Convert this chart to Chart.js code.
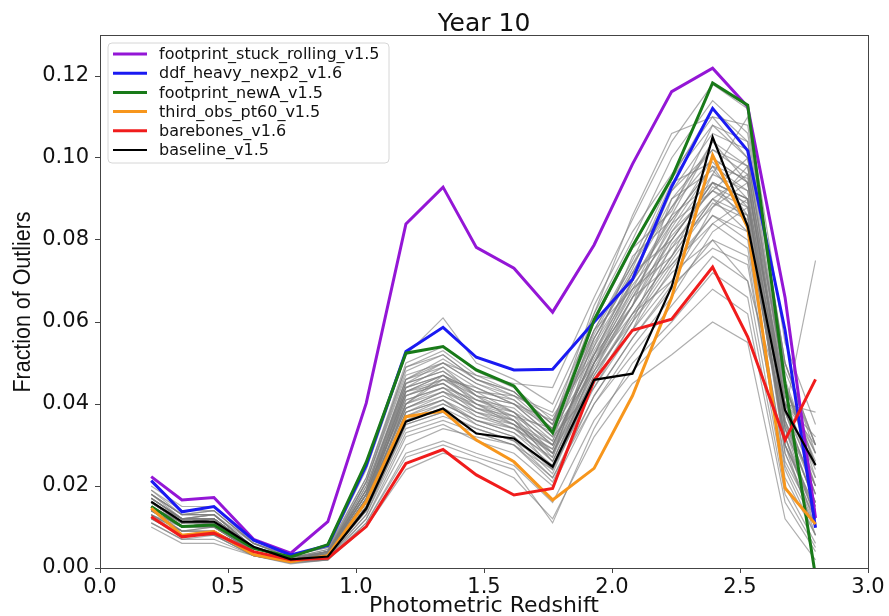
<!DOCTYPE html>
<html>
<head>
<meta charset="utf-8">
<script src="https://cdn.jsdelivr.net/npm/chart.js@4/dist/chart.umd.min.js"></script>
<style>
  html, body { margin: 0; padding: 0; background: #fff; }
  #chart { display: block; }
</style>
</head>
<body>
<canvas id="chart" width="889" height="616"></canvas>
<script>
// redshift bin centres
const zBins = [0.2, 0.32, 0.445, 0.6, 0.745, 0.89, 1.04, 1.195, 1.34, 1.47, 1.617, 1.768, 1.93, 2.08, 2.233, 2.393, 2.53, 2.676, 2.795];

const xTicks = [0, 0.5, 1.0, 1.5, 2.0, 2.5, 3.0];
const yTicks = [0, 0.02, 0.04, 0.06, 0.08, 0.10, 0.12];

// highlighted runs
const runNames = ['footprint_stuck_rolling_v1.5', 'ddf_heavy_nexp2_v1.6', 'footprint_newA_v1.5', 'third_obs_pt60_v1.5', 'barebones_v1.6', 'baseline_v1.5'];
const stuckRolling = [0.0223, 0.0166, 0.0172, 0.0070, 0.0036, 0.0113, 0.0402, 0.0839, 0.0929, 0.0782, 0.0731, 0.0624, 0.0788, 0.0985, 0.1162, 0.1219, 0.1125, 0.066, 0.0122];
const ddfHeavy     = [0.0213, 0.0137, 0.0150, 0.0068, 0.0032, 0.0055, 0.0250, 0.0528, 0.0587, 0.0514, 0.0483, 0.0485, 0.0600, 0.0704, 0.0930, 0.1121, 0.1018, 0.058, 0.0098];
const newA         = [0.0150, 0.0101, 0.0105, 0.0048, 0.0027, 0.0057, 0.0258, 0.0524, 0.0540, 0.0483, 0.0444, 0.0330, 0.0605, 0.0785, 0.0951, 0.1183, 0.1129, 0.045, -0.002];
const thirdObs     = [0.0146, 0.0080, 0.0089, 0.0033, 0.0015, 0.0030, 0.0162, 0.0369, 0.0383, 0.0312, 0.0259, 0.0166, 0.0243, 0.0420, 0.0660, 0.1007, 0.0830, 0.0195, 0.0107];
const barebones    = [0.0125, 0.0076, 0.0085, 0.0040, 0.0020, 0.0024, 0.0101, 0.0255, 0.0289, 0.0227, 0.0178, 0.0194, 0.0458, 0.0580, 0.0607, 0.0734, 0.0564, 0.0312, 0.0460];
const baseline     = [0.0162, 0.0113, 0.0113, 0.0052, 0.0021, 0.0028, 0.0145, 0.0357, 0.0389, 0.0328, 0.0316, 0.0247, 0.0459, 0.0474, 0.0686, 0.1051, 0.0834, 0.0385, 0.0251];
const runColors = ['#9416d6', '#1a1af2', '#187a18', '#f7961c', '#f01c1c', '#000000'];

// all the other runs (grey)
const otherRuns = [
  [0.018, 0.013, 0.013, 0.005, 0.0025, 0.004, 0.020, 0.046, 0.049, 0.044, 0.040, 0.032, 0.055, 0.070, 0.085, 0.098, 0.092, 0.035, 0.020],
  [0.016, 0.011, 0.012, 0.005, 0.002, 0.003, 0.017, 0.042, 0.045, 0.040, 0.036, 0.028, 0.050, 0.066, 0.080, 0.094, 0.090, 0.030, 0.015],
  [0.015, 0.010, 0.011, 0.004, 0.002, 0.003, 0.016, 0.040, 0.043, 0.037, 0.034, 0.026, 0.047, 0.062, 0.076, 0.090, 0.086, 0.028, 0.012],
  [0.017, 0.012, 0.012, 0.005, 0.002, 0.004, 0.019, 0.044, 0.047, 0.041, 0.038, 0.030, 0.052, 0.072, 0.090, 0.102, 0.096, 0.038, 0.022],
  [0.014, 0.009, 0.010, 0.004, 0.002, 0.003, 0.015, 0.038, 0.041, 0.035, 0.032, 0.024, 0.045, 0.060, 0.074, 0.086, 0.080, 0.025, 0.010],
  [0.019, 0.014, 0.014, 0.006, 0.003, 0.005, 0.022, 0.049, 0.052, 0.046, 0.043, 0.035, 0.058, 0.075, 0.095, 0.108, 0.100, 0.042, 0.028],
  [0.013, 0.008, 0.009, 0.004, 0.0015, 0.0025, 0.013, 0.035, 0.038, 0.033, 0.030, 0.022, 0.042, 0.056, 0.068, 0.080, 0.076, 0.022, 0.008],
  [0.012, 0.008, 0.008, 0.003, 0.0015, 0.0025, 0.012, 0.032, 0.035, 0.031, 0.028, 0.020, 0.040, 0.052, 0.064, 0.076, 0.070, 0.020, 0.006],
  [0.011, 0.007, 0.007, 0.003, 0.0012, 0.002, 0.011, 0.028, 0.031, 0.028, 0.025, 0.016, 0.036, 0.048, 0.058, 0.068, 0.062, 0.016, 0.004],
  [0.010, 0.006, 0.006, 0.003, 0.001, 0.002, 0.010, 0.024, 0.028, 0.026, 0.022, 0.012, 0.032, 0.045, 0.052, 0.060, 0.055, 0.012, 0.002],
  [0.020, 0.015, 0.015, 0.006, 0.003, 0.005, 0.024, 0.052, 0.061, 0.050, 0.046, 0.040, 0.062, 0.080, 0.100, 0.114, 0.106, 0.050, 0.030],
  [0.016, 0.012, 0.012, 0.005, 0.002, 0.004, 0.018, 0.045, 0.048, 0.043, 0.042, 0.038, 0.060, 0.078, 0.095, 0.112, 0.104, 0.045, 0.025],
  [0.015, 0.011, 0.011, 0.005, 0.002, 0.003, 0.017, 0.041, 0.044, 0.039, 0.037, 0.034, 0.057, 0.074, 0.088, 0.100, 0.094, 0.040, 0.038],
  [0.017, 0.012, 0.013, 0.005, 0.002, 0.004, 0.018, 0.043, 0.046, 0.042, 0.036, 0.026, 0.048, 0.064, 0.082, 0.096, 0.110, 0.048, 0.030],
  [0.014, 0.010, 0.010, 0.004, 0.002, 0.003, 0.016, 0.039, 0.042, 0.038, 0.036, 0.030, 0.052, 0.068, 0.078, 0.088, 0.098, 0.036, 0.018],
  [0.013, 0.009, 0.009, 0.004, 0.002, 0.003, 0.014, 0.036, 0.040, 0.036, 0.033, 0.027, 0.050, 0.070, 0.086, 0.094, 0.084, 0.030, 0.014],
  [0.018, 0.013, 0.013, 0.005, 0.0025, 0.004, 0.021, 0.047, 0.050, 0.045, 0.041, 0.033, 0.056, 0.072, 0.088, 0.104, 0.098, 0.040, 0.024],
  [0.012, 0.008, 0.008, 0.003, 0.0015, 0.002, 0.012, 0.030, 0.034, 0.032, 0.030, 0.024, 0.044, 0.058, 0.070, 0.084, 0.078, 0.026, 0.012],
  [0.016, 0.011, 0.011, 0.005, 0.002, 0.003, 0.016, 0.040, 0.046, 0.044, 0.040, 0.036, 0.054, 0.070, 0.084, 0.092, 0.088, 0.034, 0.016],
  [0.015, 0.010, 0.011, 0.004, 0.002, 0.003, 0.015, 0.037, 0.040, 0.036, 0.034, 0.029, 0.050, 0.066, 0.084, 0.100, 0.094, 0.040, 0.032],
  [0.014, 0.010, 0.010, 0.004, 0.002, 0.003, 0.015, 0.038, 0.042, 0.038, 0.034, 0.028, 0.048, 0.060, 0.072, 0.080, 0.070, 0.038, 0.075],
  [0.017, 0.012, 0.012, 0.005, 0.002, 0.004, 0.019, 0.046, 0.050, 0.047, 0.045, 0.044, 0.066, 0.085, 0.104, 0.118, 0.112, 0.055, 0.035],
  [0.013, 0.009, 0.009, 0.004, 0.0018, 0.0028, 0.014, 0.034, 0.037, 0.034, 0.031, 0.025, 0.046, 0.062, 0.076, 0.090, 0.082, 0.032, 0.010],
  [0.016, 0.011, 0.012, 0.005, 0.002, 0.0035, 0.018, 0.043, 0.047, 0.043, 0.038, 0.030, 0.050, 0.064, 0.080, 0.094, 0.090, 0.044, 0.028],
  [0.011, 0.007, 0.008, 0.003, 0.0013, 0.002, 0.011, 0.027, 0.030, 0.027, 0.024, 0.011, 0.034, 0.050, 0.060, 0.072, 0.066, 0.018, 0.005],
  [0.018, 0.013, 0.014, 0.006, 0.0025, 0.0045, 0.022, 0.050, 0.054, 0.048, 0.044, 0.036, 0.058, 0.074, 0.092, 0.106, 0.102, 0.044, 0.026],
  [0.017, 0.012, 0.012, 0.005, 0.002, 0.004, 0.019, 0.040, 0.047, 0.040, 0.035, 0.024, 0.050, 0.062, 0.070, 0.088, 0.094, 0.042, 0.020],
  [0.015, 0.011, 0.011, 0.005, 0.002, 0.003, 0.017, 0.044, 0.049, 0.042, 0.040, 0.032, 0.044, 0.060, 0.082, 0.092, 0.100, 0.045, 0.022],
  [0.016, 0.011, 0.012, 0.005, 0.002, 0.0035, 0.018, 0.041, 0.044, 0.041, 0.039, 0.031, 0.058, 0.068, 0.076, 0.096, 0.092, 0.036, 0.015],
  [0.014, 0.010, 0.011, 0.004, 0.002, 0.003, 0.016, 0.043, 0.045, 0.039, 0.035, 0.029, 0.054, 0.076, 0.085, 0.098, 0.086, 0.032, 0.012],
  [0.018, 0.012, 0.013, 0.005, 0.0025, 0.004, 0.020, 0.045, 0.048, 0.042, 0.038, 0.028, 0.046, 0.058, 0.079, 0.090, 0.096, 0.046, 0.025],
  [0.013, 0.010, 0.010, 0.004, 0.002, 0.003, 0.015, 0.037, 0.041, 0.037, 0.035, 0.030, 0.052, 0.064, 0.090, 0.097, 0.088, 0.030, 0.008],
  [0.019, 0.013, 0.014, 0.006, 0.0025, 0.0045, 0.021, 0.048, 0.052, 0.046, 0.042, 0.034, 0.060, 0.078, 0.087, 0.108, 0.104, 0.050, 0.030],
  [0.016, 0.012, 0.012, 0.005, 0.002, 0.0035, 0.017, 0.039, 0.043, 0.040, 0.038, 0.033, 0.048, 0.066, 0.074, 0.084, 0.090, 0.038, 0.018],
  [0.015, 0.010, 0.011, 0.004, 0.002, 0.003, 0.016, 0.042, 0.046, 0.041, 0.037, 0.027, 0.056, 0.072, 0.080, 0.094, 0.090, 0.028, 0.010],
  [0.017, 0.012, 0.013, 0.005, 0.002, 0.004, 0.019, 0.045, 0.050, 0.045, 0.042, 0.037, 0.052, 0.070, 0.092, 0.102, 0.098, 0.040, 0.020],
  [0.014, 0.009, 0.010, 0.004, 0.0018, 0.003, 0.014, 0.036, 0.039, 0.035, 0.032, 0.023, 0.046, 0.058, 0.073, 0.086, 0.082, 0.034, 0.016],
  [0.018, 0.013, 0.013, 0.006, 0.0025, 0.004, 0.021, 0.049, 0.053, 0.047, 0.043, 0.035, 0.064, 0.082, 0.096, 0.110, 0.100, 0.044, 0.025],
  [0.016, 0.011, 0.012, 0.005, 0.002, 0.0035, 0.018, 0.044, 0.047, 0.043, 0.041, 0.034, 0.050, 0.068, 0.086, 0.104, 0.094, 0.036, 0.020],
  [0.015, 0.011, 0.011, 0.004, 0.002, 0.003, 0.016, 0.040, 0.044, 0.038, 0.035, 0.028, 0.053, 0.069, 0.081, 0.092, 0.086, 0.032, 0.014],
  [0.013, 0.009, 0.009, 0.004, 0.0018, 0.0028, 0.014, 0.035, 0.038, 0.034, 0.031, 0.022, 0.040, 0.054, 0.066, 0.082, 0.088, 0.040, 0.030],
  [0.017, 0.012, 0.012, 0.005, 0.002, 0.004, 0.019, 0.046, 0.051, 0.046, 0.043, 0.035, 0.056, 0.073, 0.094, 0.099, 0.090, 0.034, 0.012],
  [0.012, 0.008, 0.009, 0.003, 0.0015, 0.0025, 0.013, 0.033, 0.036, 0.033, 0.030, 0.021, 0.042, 0.056, 0.069, 0.078, 0.074, 0.024, 0.008],
  [0.016, 0.011, 0.012, 0.005, 0.002, 0.0035, 0.017, 0.042, 0.045, 0.040, 0.037, 0.031, 0.051, 0.067, 0.083, 0.098, 0.095, 0.038, 0.018],
  [0.015, 0.010, 0.011, 0.004, 0.002, 0.003, 0.016, 0.039, 0.043, 0.039, 0.036, 0.026, 0.049, 0.064, 0.078, 0.093, 0.089, 0.035, 0.016],
  [0.014, 0.010, 0.010, 0.004, 0.002, 0.003, 0.015, 0.038, 0.041, 0.036, 0.033, 0.025, 0.047, 0.061, 0.075, 0.089, 0.085, 0.030, 0.013],
  [0.016, 0.011, 0.012, 0.005, 0.002, 0.0035, 0.018, 0.043, 0.047, 0.042, 0.040, 0.034, 0.062, 0.086, 0.106, 0.110, 0.108, 0.050, 0.028]
];

const runValues = [stuckRolling, ddfHeavy, newA, thirdObs, barebones, baseline];

function toPoints(vals) {
    return vals.map((v, i) => ({ x: zBins[i], y: v }));
}

const datasets = [];
runValues.forEach((vals, i) => {
    datasets.push({
        label: runNames[i],
        data: toPoints(vals),
        borderColor: runColors[i],
        borderWidth: i === 5 ? 2.2 : 3,
        order: 6 - i
    });
});
otherRuns.forEach((vals, i) => {
    datasets.push({
        label: 'run' + i,
        data: toPoints(vals),
        borderColor: 'rgba(125,125,125,0.62)',
        borderWidth: 1.2,
        order: 100
    });
});

const FONT = '"DejaVu Sans", Verdana, sans-serif';
const AXIS = '#444';

const decorations = {
    id: 'decorations',
    afterDraw(chart) {
        const ctx = chart.ctx;
        const a = chart.chartArea;
        ctx.save();

        // frame
        ctx.strokeStyle = AXIS;
        ctx.lineWidth = 1;
        ctx.strokeRect(a.left + 0.5, a.top + 0.5, a.right - a.left, a.bottom - a.top);

        // title
        ctx.fillStyle = '#111';
        ctx.font = '25px ' + FONT;
        ctx.textAlign = 'center';
        ctx.textBaseline = 'alphabetic';
        ctx.fillText('Year 10', (a.left + a.right) / 2, 31);

        // x label
        ctx.font = '22px ' + FONT;
        ctx.fillText('Photometric Redshift', (a.left + a.right) / 2, 612);

        // y label, narrow
        ctx.font = '23px "Liberation Sans Narrow", "Liberation Sans", sans-serif';
        const txt = 'Fraction of Outliers';
        const w = ctx.measureText(txt).width;
        ctx.translate(30, 302);
        ctx.rotate(-Math.PI / 2);
        ctx.scale(181 / w, 1);
        ctx.fillText(txt, 0, 0);
        ctx.setTransform(1, 0, 0, 1, 0, 0);

        // legend box
        const bx = 108, by = 43, bw = 281, bh = 120, r = 4;
        ctx.beginPath();
        ctx.moveTo(bx + r, by);
        ctx.arcTo(bx + bw, by, bx + bw, by + bh, r);
        ctx.arcTo(bx + bw, by + bh, bx, by + bh, r);
        ctx.arcTo(bx, by + bh, bx, by, r);
        ctx.arcTo(bx, by, bx + bw, by, r);
        ctx.closePath();
        ctx.fillStyle = 'rgba(255,255,255,0.85)';
        ctx.fill();
        ctx.strokeStyle = '#d6d6d6';
        ctx.stroke();

        ctx.font = '16px ' + FONT;
        ctx.textAlign = 'left';
        ctx.textBaseline = 'middle';
        runNames.forEach((name, i) => {
            const yy = 54 + i * 19.2;
            ctx.strokeStyle = runColors[i];
            ctx.lineWidth = i === 5 ? 2.2 : 3;
            ctx.beginPath();
            ctx.moveTo(113, yy);
            ctx.lineTo(147, yy);
            ctx.stroke();
            ctx.fillStyle = '#111';
            ctx.fillText(name, 159, yy + 1);
        });
        ctx.restore();
    }
};

new Chart(document.getElementById('chart'), {
    type: 'line',
    data: { datasets },
    options: {
        responsive: false,
        animation: false,
        devicePixelRatio: 1,
        layout: { padding: { top: 35, right: 21, left: 0, bottom: 0 } },
        elements: {
            point: { radius: 0 },
            line: { tension: 0, fill: false, borderJoinStyle: 'miter' }
        },
        plugins: {
            legend: { display: false },
            title: { display: false },
            tooltip: { enabled: false }
        },
        scales: {
            x: {
                type: 'linear',
                min: 0,
                max: 3,
                afterFit(s) { s.height = 48; },
                afterBuildTicks(s) { s.ticks = xTicks.map(v => ({ value: v })); },
                grid: { drawOnChartArea: false, drawTicks: true, tickLength: 5, color: AXIS },
                border: { display: true, color: AXIS, width: 1 },
                ticks: {
                    color: '#111',
                    font: { family: FONT, size: 21 },
                    padding: 2,
                    maxRotation: 0,
                    callback: v => v.toFixed(1)
                }
            },
            y: {
                type: 'linear',
                min: 0,
                max: 0.13,
                afterFit(s) { s.width = 100; },
                afterBuildTicks(s) { s.ticks = yTicks.map(v => ({ value: v })); },
                grid: { drawOnChartArea: false, drawTicks: true, tickLength: 5, color: AXIS },
                border: { display: true, color: AXIS, width: 1 },
                ticks: {
                    color: '#111',
                    font: { family: FONT, size: 21 },
                    padding: 6,
                    callback: v => v.toFixed(2)
                }
            }
        }
    },
    plugins: [decorations]
});
</script>
</body>
</html>
